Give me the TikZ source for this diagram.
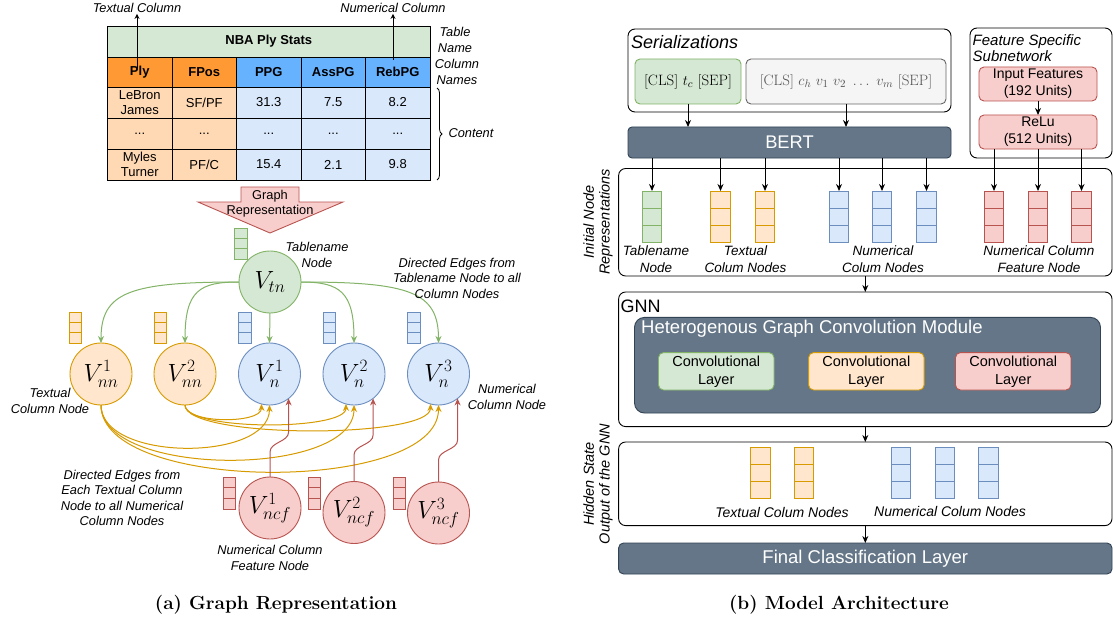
\documentclass[tikz,border=0pt]{standalone}
\usepackage{fontspec}
\setsansfont{Liberation Sans}
\usetikzlibrary{arrows.meta,decorations.pathreplacing}

\definecolor{grF}{HTML}{D5E8D4}\definecolor{grD}{HTML}{82B366}
\definecolor{orF}{HTML}{FFE6CC}\definecolor{orD}{HTML}{D79B00}
\definecolor{blF}{HTML}{DAE8FC}\definecolor{blD}{HTML}{6C8EBF}
\definecolor{rdF}{HTML}{F8CECC}\definecolor{rdD}{HTML}{B85450}
\definecolor{gyF}{HTML}{F5F5F5}\definecolor{gyD}{HTML}{666666}
\definecolor{dkF}{HTML}{647687}\definecolor{dkD}{HTML}{314354}
\definecolor{hdOr}{HTML}{FF9933}\definecolor{hdBl}{HTML}{66B2FF}
\definecolor{ctOr}{HTML}{FFD9B3}

% three stacked cells forming a small embedding vector
% #1 name, #2 style, #3 x centre, #4 top y, #5 cell height
\newcommand\cellstack[5]{%
  \node[#2, minimum height=#5, anchor=north] (#1-1) at (#3,#4) {};
  \node[#2, minimum height=#5, anchor=north] (#1-2) at (#1-1.south) {};
  \node[#2, minimum height=#5, anchor=north] (#1-3) at (#1-2.south) {};}

\tikzset{
  every node/.style={font=\sffamily},
  tcell/.style={draw=black, line width=0.8pt, minimum width=64.5, minimum height=31,
    inner sep=0, outer sep=0, align=center, font=\sffamily\fontsize{13}{15}\selectfont},
  hcell/.style={tcell, minimum height=30, font=\sffamily\bfseries\fontsize{13}{15}\selectfont},
  lbl/.style={font=\sffamily\itshape\fontsize{12.8}{15.5}\selectfont, align=center, inner sep=1pt},
  rlbl/.style={font=\sffamily\itshape\fontsize{13.5}{17}\selectfont, align=center, inner sep=1pt},
  vnode/.style={circle, minimum size=62, inner sep=0, outer sep=0, line width=0.9pt,
    font=\fontsize{23}{23}\selectfont},
  vgr/.style={draw=grD, fill=grF, inner sep=0, outer sep=0, line width=0.8pt},
  vor/.style={draw=orD, fill=orF, inner sep=0, outer sep=0, line width=0.8pt},
  vbl/.style={draw=blD, fill=blF, inner sep=0, outer sep=0, line width=0.8pt},
  vrd/.style={draw=rdD, fill=rdF, inner sep=0, outer sep=0, line width=0.8pt},
  garr/.style={draw=grD, line width=1pt, -{Stealth[length=7pt,width=6pt]}},
  oarr/.style={draw=orD, line width=1pt, -{Stealth[length=7pt,width=6pt]}},
  rarr/.style={draw=rdD, line width=1pt, -{Stealth[length=7pt,width=6pt]}},
  barr/.style={draw=black, line width=1pt, -{Stealth[length=7pt,width=6pt]}},
  sarr/.style={draw=black, line width=0.9pt, -{Stealth[length=5pt,width=5pt]}},
  rbox/.style={draw=black, fill=white, rounded corners=7, line width=0.9pt, inner sep=0, outer sep=0},
  dbox/.style={draw=dkD, fill=dkF, rounded corners=4, line width=0.9pt, text=white, inner sep=0, outer sep=0},
  lbox/.style={rounded corners=5, line width=0.9pt, inner sep=0, outer sep=0, align=center},
  capt/.style={font=\rmfamily\bfseries\fontsize{19}{22}\selectfont},
}

\begin{document}
\begin{tikzpicture}[x=1pt,y=-1pt]
\useasboundingbox (0,0) rectangle (1113,623);
\fill[white] (0,0) rectangle (1113,623);

%% ---------------- table ----------------
\node[tcell, fill=grF, minimum width=322.5, font=\sffamily\bfseries\fontsize{13}{15}\selectfont]
  (tname) at (268.75,41.5) {NBA Ply Stats};
\node[hcell, fill=hdOr] (h1) at (139.75,72) {Ply};
\node[hcell, fill=hdOr] (h2) at (204.25,72) {FPos};
\node[hcell, fill=hdBl] (h3) at (268.75,72) {PPG};
\node[hcell, fill=hdBl] (h4) at (333.25,72) {AssPG};
\node[hcell, fill=hdBl] (h5) at (397.75,72) {RebPG};

\node[tcell, fill=ctOr] (r1c1) at (139.75,102.5) {LeBron\\James};
\node[tcell, fill=ctOr] (r1c2) at (204.25,102.5) {SF/PF};
\node[tcell, fill=blF] (r1c3) at (268.75,102.5) {31.3};
\node[tcell, fill=blF] (r1c4) at (333.25,102.5) {7.5};
\node[tcell, fill=blF] (r1c5) at (397.75,102.5) {8.2};

\node[tcell, fill=ctOr] (r2c1) at (139.75,133.5) {...};
\node[tcell, fill=ctOr] (r2c2) at (204.25,133.5) {...};
\node[tcell, fill=blF] (r2c3) at (268.75,133.5) {...};
\node[tcell, fill=blF] (r2c4) at (333.25,133.5) {...};
\node[tcell, fill=blF] (r2c5) at (397.75,133.5) {...};

\node[tcell, fill=ctOr] (r3c1) at (139.75,164.5) {Myles\\Turner};
\node[tcell, fill=ctOr] (r3c2) at (204.25,164.5) {PF/C};
\node[tcell, fill=blF] (r3c3) at (268.75,164.5) {15.4};
\node[tcell, fill=blF] (r3c4) at (333.25,164.5) {2.1};
\node[tcell, fill=blF] (r3c5) at (397.75,164.5) {9.8};

\node[lbl] (tcl) at (137,8) {Textual Column};
\node[lbl] (ncl) at (393,8) {Numerical Column};
\coordinate (tcs) at (137,68);
\coordinate (ncs) at (393,60);
\draw[sarr] (tcs) -- (tcl.south);
\draw[sarr] (ncs) -- (ncl.south);

\node[lbl] (tnl) at (455,40) {Table\\Name};
\node[lbl] (cnl) at (457,72) {Column\\Names};
\draw[decorate, decoration={brace, amplitude=5pt}, line width=0.8pt] (437,88) -- (437,180);
\node[lbl] (cont) at (471,133) {Content};

%% ---------------- graph representation arrow ----------------
\draw[draw=rdD, fill=rdF, line width=0.9pt]
  (241,187) -- (299,187) -- (299,202) -- (343,202) -- (270,233) -- (198,202) -- (241,202) -- cycle;
\node[font=\sffamily\fontsize{12.8}{15.5}\selectfont, align=center] (grt) at (270,203.5) {Graph\\Representation};

%% ---------------- graph nodes ----------------
\node[vnode, draw=grD, fill=grF] (tn) at (270,282) {$V_{tn}$};
\node[vnode, draw=orD, fill=orF] (nn1) at (101,374) {$V^1_{nn}$};
\node[vnode, draw=orD, fill=orF] (nn2) at (185,374) {$V^2_{nn}$};
\node[vnode, draw=blD, fill=blF] (n1) at (269.5,374) {$V^1_{n}$};
\node[vnode, draw=blD, fill=blF] (n2) at (354,374) {$V^2_{n}$};
\node[vnode, draw=blD, fill=blF] (n3) at (438.5,374) {$V^3_{n}$};
\node[vnode, draw=rdD, fill=rdF] (ncf1) at (270,508) {$V^1_{ncf}$};
\node[vnode, draw=rdD, fill=rdF] (ncf2) at (354,512.5) {$V^2_{ncf}$};
\node[vnode, draw=rdD, fill=rdF] (ncf3) at (438.5,513) {$V^3_{ncf}$};

\cellstack{vtn}{vgr, minimum width=12.5}{241}{228}{10.33}
\cellstack{vnn1}{vor, minimum width=12.5}{75.5}{312}{10.33}
\cellstack{vnn2}{vor, minimum width=12.5}{160.5}{312}{10.33}
\cellstack{vn1}{vbl, minimum width=12.5}{245}{312}{10.33}
\cellstack{vn2}{vbl, minimum width=12.5}{329.5}{312}{10.33}
\cellstack{vn3}{vbl, minimum width=12.5}{414}{312}{10.33}
\cellstack{vf1}{vrd, minimum width=12.5}{229.4}{477}{10.67}
\cellstack{vf2}{vrd, minimum width=12.5}{314.5}{477}{10.67}
\cellstack{vf3}{vrd, minimum width=12.5}{399.4}{477}{10.67}

% tablename node to column nodes
\draw[garr] (tn.west) .. controls (130,282) and (101,292) .. (nn1.north);
\draw[garr] (tn.west) .. controls (200,282) and (185,290) .. (nn2.north);
\draw[garr] (tn.south) -- (n1.north);
\draw[garr] (tn.east) .. controls (340,282) and (354,292) .. (n2.north);
\draw[garr] (tn.east) .. controls (410,282) and (438.5,292) .. (n3.north);

% textual column nodes to numerical column nodes
\draw[oarr] (nn1.south) .. controls (101,462) and (269.5,462) .. (n1.south);
\draw[oarr] (nn1.south) .. controls (101,478) and (354,478) .. (n2.south);
\draw[oarr] (nn1.south) .. controls (101,494) and (438.5,494) .. (n3.south);
\draw[oarr] (nn2.south) .. controls (185,424) and (261.5,424) .. (n1.255);
\draw[oarr] (nn2.south) .. controls (185,431) and (346,431) .. (n2.255);
\draw[oarr] (nn2.south) .. controls (185,439) and (430.5,439) .. (n3.255);

% feature nodes to numerical column nodes
\draw[rarr] (ncf1.north) -- (270,452) .. controls (270,442) and (288.6,442) .. (288.6,432) -- (n1.308);
\draw[rarr] (ncf2.north) -- (354,455) .. controls (354,445) and (373.1,445) .. (373.1,435) -- (n2.308);
\draw[rarr] (ncf3.north) -- (438.5,460) .. controls (438.5,450) and (457.6,450) .. (457.6,440) -- (n3.308);

\node[lbl] (tnn) at (317,255) {Tablename\\Node};
\node[lbl] (dtn) at (457,278) {Directed Edges from\\Tablename Node to all\\Column Nodes};
\node[lbl] (tcn) at (50,401) {Textual\\Column Node};
\node[lbl] (ncn) at (507,397) {Numerical\\Column Node};
\node[lbl] (dtc) at (122,498) {Directed Edges from\\Each Textual Column\\Node to all Numerical\\Column Nodes};
\node[lbl] (nfn) at (270,558) {Numerical Column\\Feature Node};

\node[capt] (capa) at (276,605) {(a) Graph Representation};

%% ---------------- model architecture ----------------
\node[rbox, minimum width=323, minimum height=83] (ser) at (789.5,70.5) {};
\node[anchor=west, inner sep=0, font=\sffamily\itshape\fontsize{18}{20}\selectfont] (sert) at (631,42) {Serializations};
\node[lbox, draw=grD, fill=grF, minimum width=106, minimum height=45,
  font=\fontsize{15}{17}\selectfont] (s1) at (688,81.5) {$[\mathrm{CLS}]\ t_c\ [\mathrm{SEP}]$};
\node[lbox, draw=gyD, fill=gyF, minimum width=200, minimum height=45, text=gyD!80!black,
  font=\fontsize{15}{17}\selectfont] (s2) at (846,81.5) {$[\mathrm{CLS}]\ c_h\ v_1\ v_2\ \ldots\ v_m\ [\mathrm{SEP}]$};
\node[dbox, minimum width=323, minimum height=31, font=\sffamily\fontsize{18.3}{20}\selectfont] (bert) at (789.5,142.5) {BERT};
\draw[barr] (s1.south) -- (s1.south |- bert.north);
\draw[barr] (s2.south) -- (s2.south |- bert.north);

\node[rbox, minimum width=142, minimum height=130] (fss) at (1041,93) {};
\node[anchor=west, inner sep=0, align=left, font=\sffamily\itshape\fontsize{15}{16}\selectfont] (fsst) at (972.5,48) {Feature Specific\\Subnetwork};
\node[lbox, draw=rdD, fill=rdF, minimum width=118, minimum height=34,
  font=\sffamily\fontsize{14}{17}\selectfont] (inp) at (1038,84) {Input Features\\(192 Units)};
\node[lbox, draw=rdD, fill=rdF, minimum width=118, minimum height=34,
  font=\sffamily\fontsize{14}{17}\selectfont] (relu) at (1038,132) {ReLu\\(512 Units)};
\draw[barr] (inp.south) -- (relu.north);

% initial node representations
\node[rbox, minimum width=493.4, minimum height=107.5] (ini) at (865.3,222.25) {};
\cellstack{iv1}{vgr, minimum width=19.5}{652}{191}{17}
\cellstack{iv2}{vor, minimum width=19.5}{720.5}{191}{17}
\cellstack{iv3}{vor, minimum width=19.5}{765}{191}{17}
\cellstack{iv4}{vbl, minimum width=19.5}{839}{191}{17}
\cellstack{iv5}{vbl, minimum width=19.5}{882}{191}{17}
\cellstack{iv6}{vbl, minimum width=19.5}{926.5}{191}{17}
\cellstack{iv7}{vrd, minimum width=19.5}{994}{191}{17}
\cellstack{iv8}{vrd, minimum width=19.5}{1038}{191}{17}
\cellstack{iv9}{vrd, minimum width=19.5}{1081.5}{191}{17}
\foreach \v in {iv1,iv2,iv3,iv4,iv5,iv6}
  \draw[barr] (\v-1.north |- bert.south) -- (\v-1.north);
\foreach \v in {iv7,iv8,iv9}
  \draw[barr] (\v-1.north |- relu.south) -- (\v-1.north);
\node[rlbl] (l1) at (656,259) {Tablename\\Node};
\node[rlbl] (l2) at (745.5,259) {Textual\\Colum Nodes};
\node[rlbl] (l3) at (883,259) {Numerical\\Colum Nodes};
\node[rlbl] (l4) at (1039,259) {Numerical Column\\Feature Node};
\node[rotate=90, align=center, font=\sffamily\itshape\fontsize{14.5}{15.6}\selectfont] (sl1) at (598,222) {Initial Node\\Representations};

% GNN
\node[rbox, minimum width=493.4, minimum height=134.6] (gnn) at (865.3,359.3) {};
\node[anchor=west, inner sep=0, font=\sffamily\fontsize{18}{20}\selectfont] (gnnt) at (620.5,306) {GNN};
\draw[barr] (ini.south) -- (gnn.north);
\node[dbox, rounded corners=10, minimum width=466, minimum height=95.6] (het) at (867.5,365.2) {};
\node[anchor=west, inner sep=0, text=white, font=\sffamily\fontsize{18.5}{20}\selectfont] (hett) at (641,329) {Heterogenous Graph Convolution Module};
\node[lbox, draw=grD, fill=grF, minimum width=115.5, minimum height=37.4,
  font=\sffamily\fontsize{14.5}{18}\selectfont] (cv1) at (716.25,371.3) {Convolutional\\Layer};
\node[lbox, draw=orD, fill=orF, minimum width=115.5, minimum height=37.4,
  font=\sffamily\fontsize{14.5}{18}\selectfont] (cv2) at (866.35,371.3) {Convolutional\\Layer};
\node[lbox, draw=rdD, fill=rdF, minimum width=115.5, minimum height=37.4,
  font=\sffamily\fontsize{14.5}{18}\selectfont] (cv3) at (1013.2,371.3) {Convolutional\\Layer};

% hidden states
\node[rbox, minimum width=493.4, minimum height=83.6] (hid) at (865.3,483.8) {};
\draw[barr] (gnn.south) -- (hid.north);
\cellstack{hv1}{vor, minimum width=19.5}{760.3}{447.7}{16.8}
\cellstack{hv2}{vor, minimum width=19.5}{804}{447.7}{16.8}
\cellstack{hv3}{vbl, minimum width=19.5}{901}{447.7}{16.8}
\cellstack{hv4}{vbl, minimum width=19.5}{944.7}{447.7}{16.8}
\cellstack{hv5}{vbl, minimum width=19.5}{988.5}{447.7}{16.8}
\node[rlbl, font=\sffamily\itshape\fontsize{14}{17}\selectfont] (hl1) at (782,512) {Textual Colum Nodes};
\node[rlbl, font=\sffamily\itshape\fontsize{14}{17}\selectfont] (hl2) at (950,511) {Numerical Colum Nodes};
\node[rotate=90, align=center, font=\sffamily\itshape\fontsize{14.5}{15.6}\selectfont] (sl2) at (598,484) {Hidden State\\Output of the GNN};

\node[dbox, rounded corners=5, minimum width=493.4, minimum height=31,
  font=\sffamily\fontsize{18.5}{20}\selectfont] (fin) at (865.3,558.5) {Final Classification Layer};
\draw[barr] (hid.south) -- (fin.north);

\node[capt] (capb) at (839,605) {(b) Model Architecture};
\end{tikzpicture}
\end{document}
